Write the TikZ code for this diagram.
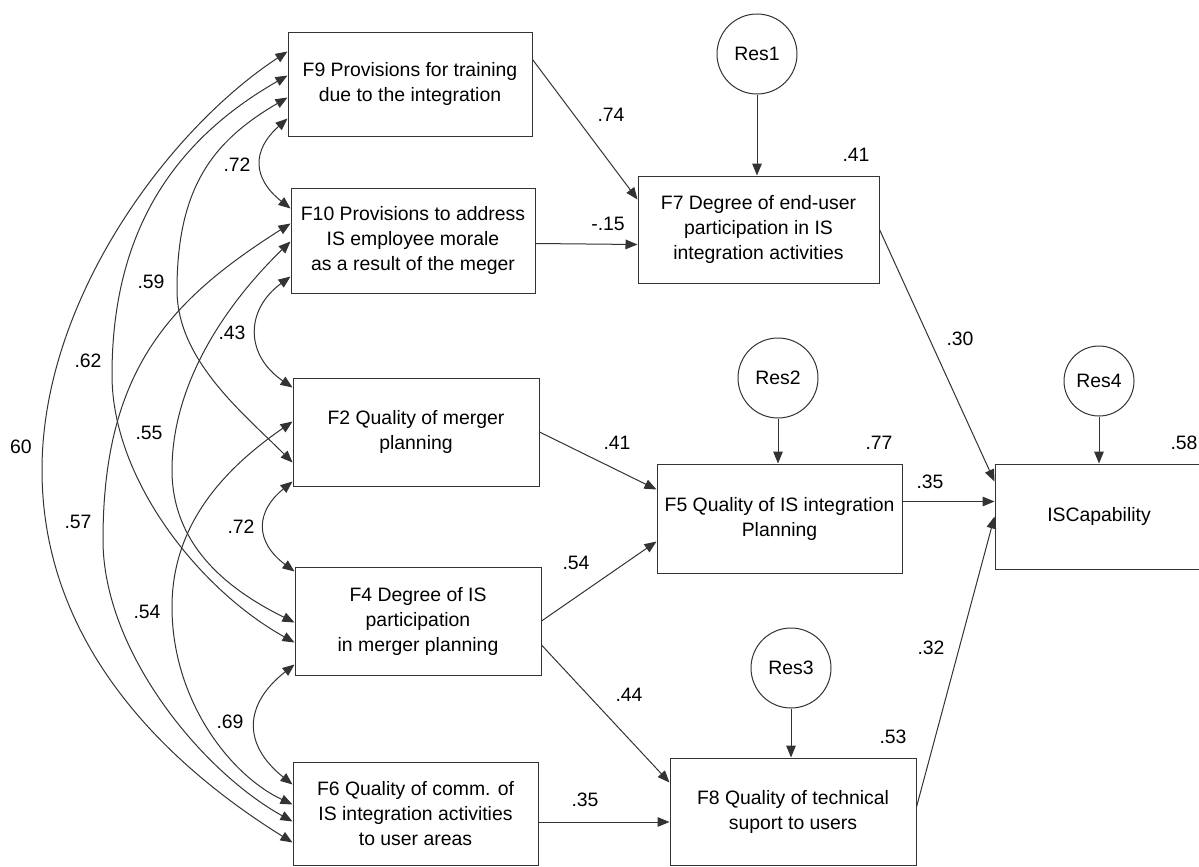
\documentclass[tikz,border=0pt]{standalone}
\usepackage{fontspec}
\setmainfont{Liberation Sans}
\usetikzlibrary{arrows.meta,calc}
\begin{document}
\begin{tikzpicture}[x=0.5pt,y=-0.5pt,
  font=\fontsize{9.7}{12.5}\selectfont,
  ln/.style={line width=0.5pt, draw=black!80},
  bx/.style={ln, rectangle, inner sep=0pt, align=center, text=black},
  res/.style={ln, circle, inner sep=0pt, minimum size=40pt},
  arr/.style={ln, -{Triangle[length=6pt,width=4.8pt]}},
  cor/.style={ln, {Triangle[length=6pt,width=4.8pt]}-{Triangle[length=6pt,width=4.8pt]}},
  lab/.style={inner sep=0pt, text=black}
]
\fill[white] (0,0) rectangle (1199,867);
\useasboundingbox (0,0) rectangle (1199,867);

% exogenous boxes
\node[bx, minimum width=122pt, minimum height=52pt]   (F9)  at (410,84)    {F9 Provisions for training\\due to the integration};
\node[bx, minimum width=122pt, minimum height=52.5pt] (F10) at (413,240.5) {F10 Provisions to address\\IS employee morale\\as a result of the meger};
\node[bx, minimum width=123pt, minimum height=54pt]   (F2)  at (416,432)   {F2 Quality of merger\\planning};
\node[bx, minimum width=123pt, minimum height=54pt]   (F4)  at (418,621)   {F4 Degree of IS\\participation\\in merger planning};
\node[bx, minimum width=122.5pt, minimum height=51.5pt] (F6) at (415.5,813.5) {F6 Quality of comm. of\\IS integration activities\\to user areas};

% endogenous boxes
\node[bx, minimum width=120.5pt, minimum height=53.5pt] (F7) at (758.5,229.5) {F7 Degree of end-user\\participation in IS\\integration activities};
\node[bx, minimum width=122.5pt, minimum height=54.5pt] (F5) at (779.5,518.5) {F5 Quality of IS integration\\Planning};
\node[bx, minimum width=123pt, minimum height=53.5pt]   (F8) at (793,811.5)   {F8 Quality of technical\\suport to users};
\node[bx, minimum width=104pt, minimum height=52.5pt]   (IS) at (1099,516.5)  {ISCapability};

% residuals
\node[res] (R1) at (757,54)  {Res1};
\node[res] (R2) at (778,378) {Res2};
\node[res] (R3) at (791,668) {Res3};
\node[res, minimum size=35pt] (R4) at (1099,381) {Res4};

\draw[arr] (R1) -- (R1 |- F7.north);
\draw[arr] (R2) -- (R2 |- F5.north);
\draw[arr] (R3) -- (R3 |- F8.north);
\draw[arr] (R4) -- (R4 |- IS.north);

% structural paths
\draw[arr] ($(F9.north east)+(0,28)$) -- ($(F7.north west)+(0,24)$);
\draw[arr] ($(F10.east)+(0,3)$) -- ($(F7.west)+(0,15)$);
\draw[arr] (F7.east) -- ($(IS.north west)+(0,18)$);
\draw[arr] (F2.east) -- ($(F5.north west)+(0,26)$);
\draw[arr] (F4.east) -- ($(F5.north west)+(0,78)$);
\draw[arr] ($(F4.east)+(0,24)$) -- ($(F8.north west)+(0,25)$);
\draw[arr] ($(F5.north east)+(0,38)$) -- ($(IS.north west)+(0,38)$);
\draw[arr] ($(F6.east)+(0,8.5)$) -- ($(F8.west)+(0,10.5)$);
\draw[arr] ($(F8.east)+(0,-4.5)$) -- (IS.west);

% correlation end points
\coordinate (f9a)  at ($(F9.north west)+(0,20)$);
\coordinate (f9b)  at ($(F9.north west)+(0,44)$);
\coordinate (f9c)  at ($(F9.north west)+(0,66)$);
\coordinate (f9d)  at ($(F9.north west)+(0,87)$);
\coordinate (f10a) at ($(F10.north west)+(0,21)$);
\coordinate (f10b) at ($(F10.north west)+(0,36)$);
\coordinate (f10c) at ($(F10.north west)+(0,54)$);
\coordinate (f10d) at ($(F10.north west)+(0,89)$);
\coordinate (f2a)  at ($(F2.north west)+(0,10)$);
\coordinate (f2b)  at ($(F2.north west)+(0,44)$);
\coordinate (f2c)  at ($(F2.north west)+(0,85)$);
\coordinate (f2d)  at ($(F2.north west)+(0,104)$);
\coordinate (f4a)  at ($(F4.north west)+(0,5)$);
\coordinate (f4b)  at ($(F4.north west)+(0,56)$);
\coordinate (f4c)  at ($(F4.north west)+(0,76)$);
\coordinate (f4d)  at ($(F4.north west)+(0,98)$);
\coordinate (f6a)  at ($(F6.north west)+(0,23)$);
\coordinate (f6b)  at ($(F6.north west)+(0,43)$);
\coordinate (f6c)  at ($(F6.north west)+(0,60)$);
\coordinate (f6d)  at ($(F6.north west)+(0,81)$);

% adjacent correlations
\draw[cor] (f9d)  .. controls (252,150) and (252,178) .. (f10a);
\draw[cor] (f10d) .. controls (245,310) and (245,355) .. (f2a);
\draw[cor] (f2d)  .. controls (255,512) and (255,542) .. (f4a);
\draw[cor] (f4d)  .. controls (243,705) and (243,745) .. (f6a);

% long correlations
\draw[cor] (f9a)  .. controls (168,130) and (42,300) .. (42,470) .. controls (42,640) and (160,760) .. (f6d);
\draw[cor] (f9b)  .. controls (175,140) and (112,230) .. (112,375) .. controls (112,480) and (200,590) .. (f4c);
\draw[cor] (f9c)  .. controls (215,140) and (177,185) .. (177,290) .. controls (177,360) and (243,413) .. (f2c);
\draw[cor] (f10b) .. controls (170,300) and (103,370) .. (103,540) .. controls (103,650) and (200,770) .. (f6c);
\draw[cor] (f10c) .. controls (230,300) and (172,380) .. (172,470) .. controls (172,550) and (235,593) .. (f4b);
\draw[cor] (f2b)  .. controls (230,465) and (172,520) .. (172,607) .. controls (172,700) and (230,775) .. (f6b);

% correlation labels
\node[lab] (c1)  at (237,165) {.72};
\node[lab] (c2)  at (151,282) {.59};
\node[lab] (c3)  at (232,333) {.43};
\node[lab] (c4)  at (88,361)  {.62};
\node[lab] (c5)  at (149,433) {.55};
\node[lab] (c6)  at (21,447)  {60};
\node[lab] (c7)  at (241,527) {.72};
\node[lab] (c8)  at (78,522)  {.57};
\node[lab] (c9)  at (147,612) {.54};
\node[lab] (c10) at (230,722) {.69};

% path labels
\node[lab] (p1)  at (611,115) {.74};
\node[lab] (p2)  at (608,224) {-.15};
\node[lab] (p3)  at (856,155) {.41};
\node[lab] (p4)  at (960,339) {.30};
\node[lab] (p5)  at (617,443) {.41};
\node[lab] (p6)  at (879,443) {.77};
\node[lab] (p7)  at (1184,443) {.58};
\node[lab] (p8)  at (930,482) {.35};
\node[lab] (p9)  at (576,563) {.54};
\node[lab] (p10) at (931,648) {.32};
\node[lab] (p11) at (629,695) {.44};
\node[lab] (p12) at (893,737) {.53};
\node[lab] (p13) at (585,800) {.35};
\end{tikzpicture}
\end{document}
